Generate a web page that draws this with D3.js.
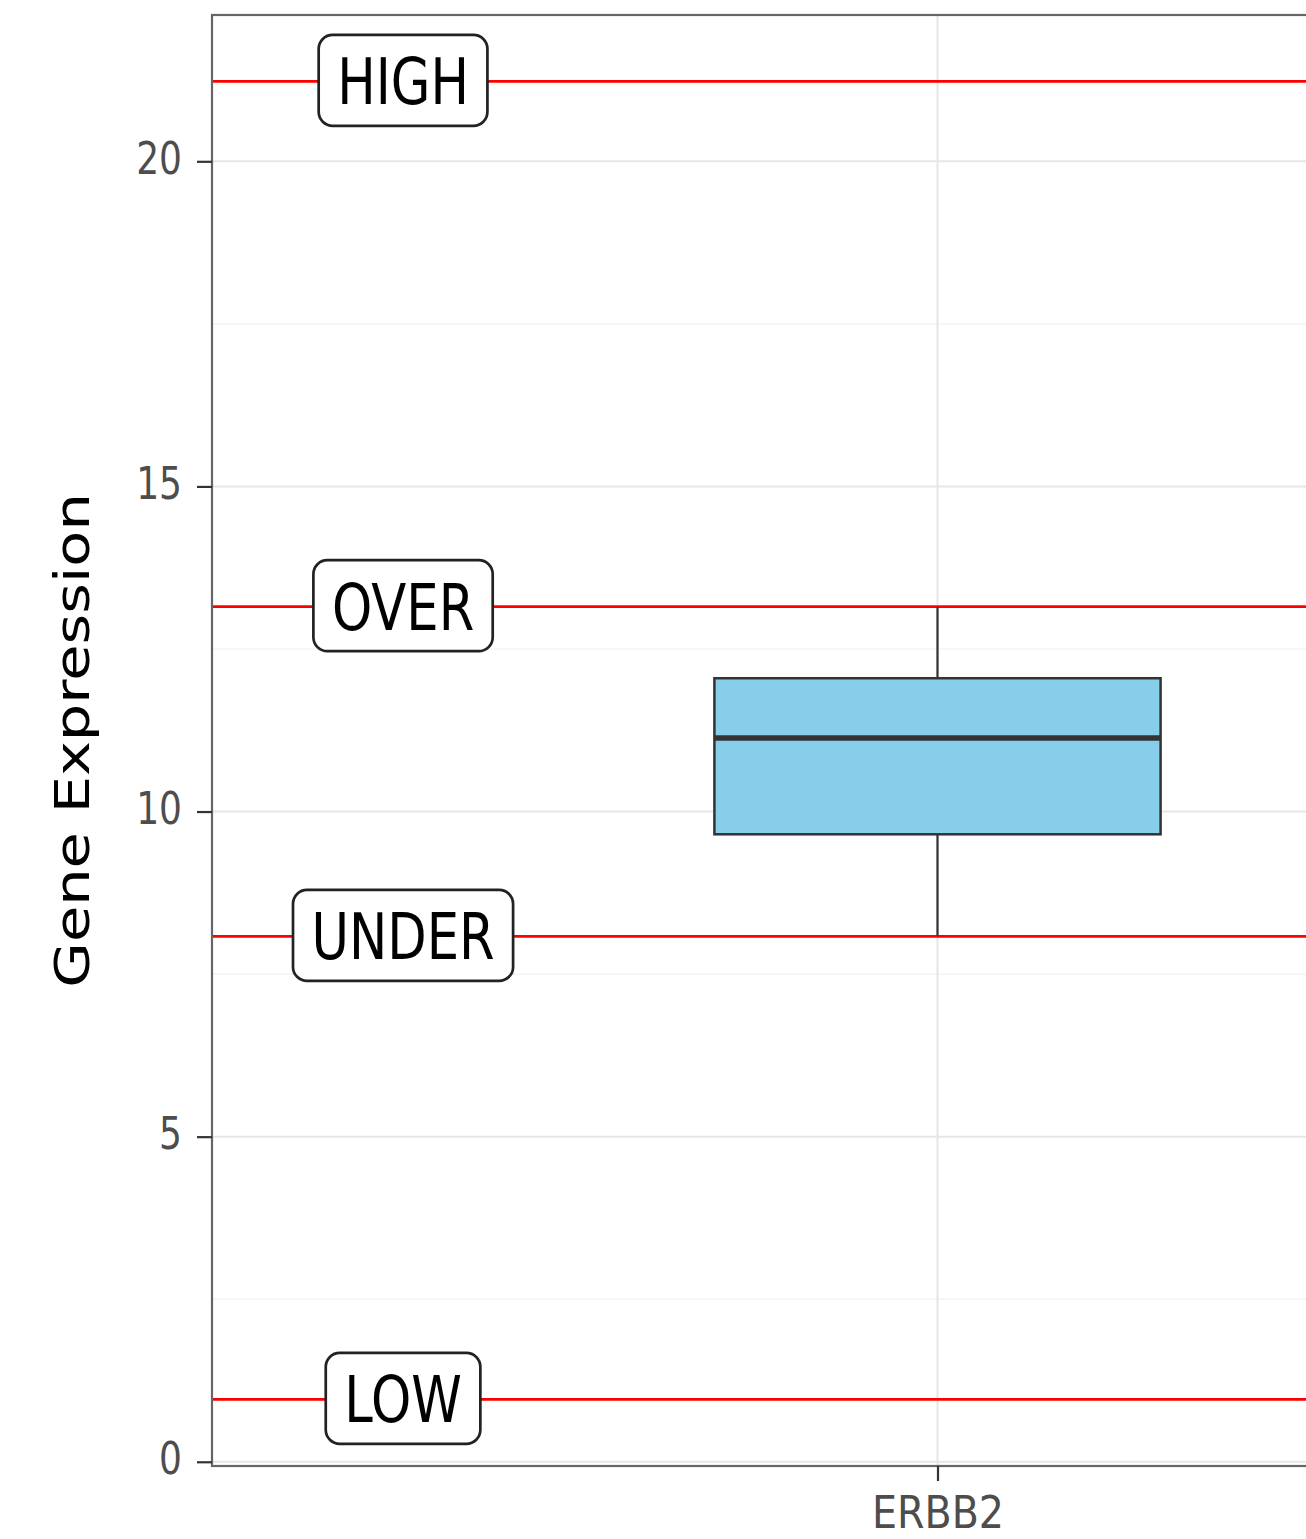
<!DOCTYPE html>
<html>
<head>
<meta charset="utf-8">
<script src="https://cdn.jsdelivr.net/npm/d3@7"></script>
<style>
  body { margin: 0; background: #fff; }
  text { font-family: "DejaVu Sans", sans-serif; }
</style>
</head>
<body>
<div id="chart"></div>
<script>
// data
const categories = ["ERBB2"];
const boxStats = [{ gene: "ERBB2", lower: 8.09, q1: 9.65, median: 11.13, q3: 12.05, upper: 13.14 }];
const thresholdNames = ["HIGH", "OVER", "UNDER", "LOW"];
const thresholdValues = [21.23, 13.15, 8.08, 0.96];
const yTicks = [0, 5, 10, 15, 20];
const yMinor = [2.5, 7.5, 12.5, 17.5];

const W = 1306, H = 1539;
const margin = { top: 15, left: 212, bottom: 73 };
const panelW = 1451;
const panelH = H - margin.top - margin.bottom;
const sx = 0.8; // glyphs in the reference are horizontally squeezed

const svg = d3.select("#chart").append("svg")
    .attr("width", W)
    .attr("height", H);

const x = d3.scaleLinear().domain([0.4, 1.6]).range([margin.left, margin.left + panelW]);
const xCat = d3.scalePoint().domain(categories).range([x(1), x(1)]);
const y = d3.scaleLinear().domain([-0.065, 22.25]).range([margin.top + panelH, margin.top]);

// GRID
const grid = svg.append("g");
grid.selectAll(".minor").data(yMinor).enter().append("line")
    .attr("x1", margin.left).attr("x2", margin.left + panelW)
    .attr("y1", d => y(d)).attr("y2", d => y(d))
    .attr("stroke", "#f2f2f2").attr("stroke-width", 1.2);
grid.selectAll(".major").data(yTicks).enter().append("line")
    .attr("x1", margin.left).attr("x2", margin.left + panelW)
    .attr("y1", d => y(d)).attr("y2", d => y(d))
    .attr("stroke", "#e6e6e6").attr("stroke-width", 2);
grid.selectAll(".vmajor").data(categories).enter().append("line")
    .attr("x1", d => xCat(d)).attr("x2", d => xCat(d))
    .attr("y1", margin.top).attr("y2", margin.top + panelH)
    .attr("stroke", "#e6e6e6").attr("stroke-width", 2);

// THRESHOLD LINES
svg.selectAll(".thr").data(thresholdValues).enter().append("line")
    .attr("x1", margin.left).attr("x2", margin.left + panelW)
    .attr("y1", d => y(d)).attr("y2", d => y(d))
    .attr("stroke", "#ff0000").attr("stroke-width", 2.7);

// BOXPLOT
const boxHalf = 0.1845;
const bp = svg.selectAll(".box").data(boxStats).enter().append("g");
bp.append("line")
    .attr("x1", d => xCat(d.gene)).attr("x2", d => xCat(d.gene))
    .attr("y1", d => y(d.upper)).attr("y2", d => y(d.lower))
    .attr("stroke", "#333").attr("stroke-width", 2.2);
bp.append("rect")
    .attr("x", d => xCat(d.gene) - (x(1 + boxHalf) - x(1)))
    .attr("width", x(1 + 2 * boxHalf) - x(1))
    .attr("y", d => y(d.q3))
    .attr("height", d => y(d.q1) - y(d.q3))
    .attr("fill", "#87CEEB").attr("stroke", "#333").attr("stroke-width", 2.5);
bp.append("line")
    .attr("x1", d => xCat(d.gene) - (x(1 + boxHalf) - x(1)))
    .attr("x2", d => xCat(d.gene) + (x(1 + boxHalf) - x(1)))
    .attr("y1", d => y(d.median)).attr("y2", d => y(d.median))
    .attr("stroke", "#333").attr("stroke-width", 5.5);

// LABELS
const labelX = x(0.558);
thresholdValues.forEach((v, i) => {
    const g = svg.append("g").attr("transform", "translate(" + labelX + "," + y(v) + ")");
    const rect = g.append("rect");
    const t = g.append("text")
        .text(thresholdNames[i])
        .attr("text-anchor", "middle")
        .attr("dy", "0.36em")
        .attr("transform", "scale(" + sx + ",1)")
        .style("font-size", "64px")
        .attr("fill", "#000");
    const bw = t.node().getBBox().width * sx + 37;
    const bh = 91;
    rect.attr("x", -bw / 2).attr("y", -bh / 2 - 1)
        .attr("width", bw).attr("height", bh)
        .attr("rx", 14).attr("ry", 14)
        .attr("fill", "#fff").attr("stroke", "#222").attr("stroke-width", 2.7);
});

// PANEL BORDER
svg.append("rect")
    .attr("x", margin.left).attr("y", margin.top)
    .attr("width", panelW).attr("height", panelH)
    .attr("fill", "none").attr("stroke", "#666").attr("stroke-width", 2.2);

// AXES
const yAxis = svg.append("g")
    .attr("transform", "translate(" + margin.left + ",0)")
    .call(d3.axisLeft(y).tickValues(yTicks).tickSize(15).tickPadding(0));
yAxis.select(".domain").remove();
yAxis.selectAll("line").attr("stroke", "#333").attr("stroke-width", 2.2);
yAxis.selectAll("text")
    .attr("x", null).attr("dy", "0.27em")
    .attr("transform", "translate(-30,0) scale(" + sx + ",1)")
    .attr("fill", "#4d4d4d")
    .style("font-size", "45px");

const xAxis = svg.append("g")
    .attr("transform", "translate(0," + (margin.top + panelH) + ")")
    .call(d3.axisBottom(xCat).tickSize(15).tickPadding(0));
xAxis.select(".domain").remove();
xAxis.selectAll("line").attr("stroke", "#333").attr("stroke-width", 2.2);
xAxis.selectAll("text")
    .attr("y", null).attr("dy", null)
    .attr("transform", "translate(0,62) scale(0.88,1)")
    .attr("fill", "#4d4d4d")
    .style("font-size", "45px");

// AXIS TITLE
svg.append("text")
    .text("Gene Expression")
    .attr("text-anchor", "middle")
    .attr("transform", "translate(89," + (margin.top + panelH / 2) + ") scale(" + sx + ",1) rotate(-90)")
    .attr("fill", "#000")
    .style("font-size", "59px");
</script>
</body>
</html>
